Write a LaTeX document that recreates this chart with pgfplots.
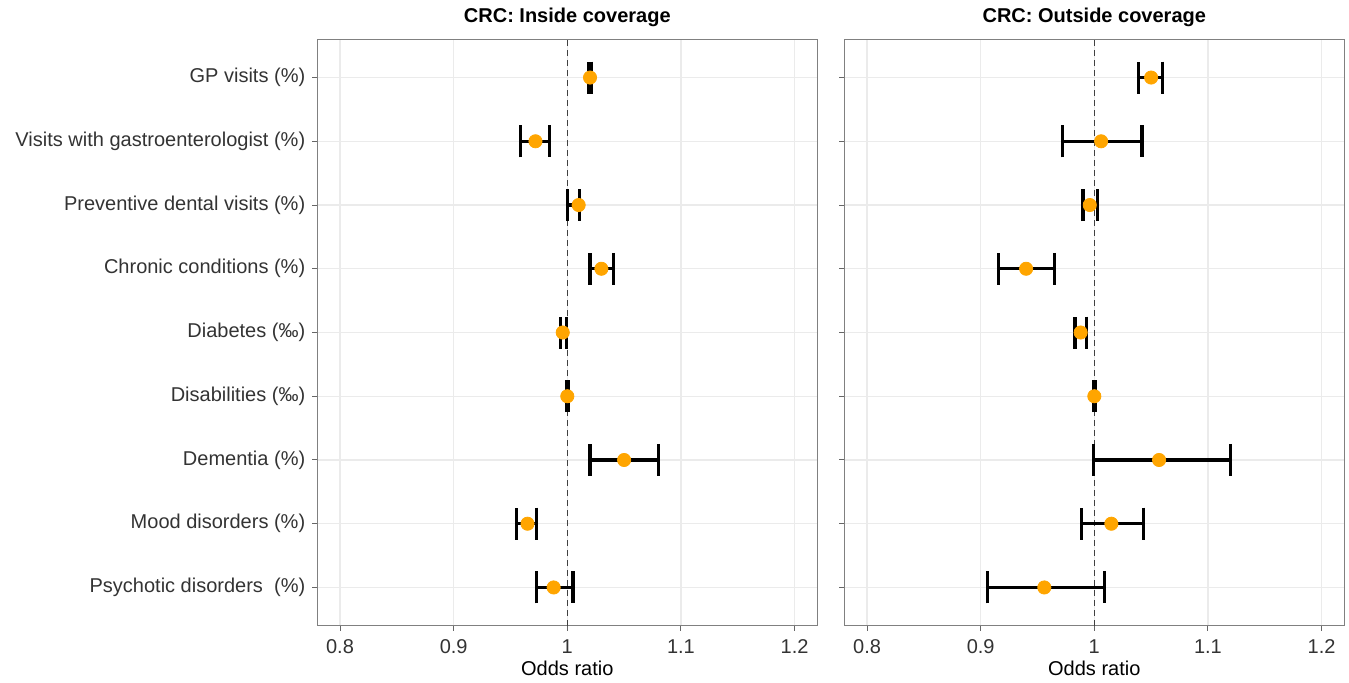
\documentclass[border=0pt]{standalone}
\usepackage{fontspec}
\setmainfont{Liberation Sans}
\usepackage{pgfplots}
\pgfplotsset{compat=1.18}
\usepackage{pgfplotstable}

\definecolor{ptorange}{RGB}{255,165,0}
\definecolor{gridgrey}{RGB}{235,235,235}
\definecolor{txtgrey}{RGB}{51,51,51}

% odds ratio with 95% CI, row 9 = top
\pgfplotstableread{
row or    lo    hi
9   1.020 1.019 1.021
8   0.972 0.959 0.984
7   1.010 1.000 1.011
6   1.030 1.020 1.041
5   0.996 0.994 0.999
4   1.000 0.999 1.001
3   1.050 1.020 1.080
2   0.965 0.955 0.973
1   0.988 0.973 1.005
}\inside

\pgfplotstableread{
row or    lo    hi
9   1.050 1.039 1.060
8   1.006 0.972 1.042
7   0.996 0.990 1.003
6   0.940 0.916 0.965
5   0.988 0.983 0.993
4   1.000 0.999 1.001
3   1.057 0.999 1.120
2   1.015 0.989 1.043
1   0.956 0.906 1.009
}\outside

\pgfplotsset{forest/.style={
    scale only axis, width=250pt, height=293.2pt,
    xmin=0.78, xmax=1.22, ymin=0.4, ymax=9.6,
    xtick={0.8,0.9,1,1.1,1.2}, xticklabels={0.8,0.9,1,1.1,1.2},
    ytick={1,...,9},
    xtick pos=lower, ytick pos=left,
    grid=major, major grid style={gridgrey, line width=0.6pt},
    axis line style={black!50, line width=0.6pt},
    tick align=outside, major tick length=2.5pt,
    tick style={black!60, line width=0.5pt},
    ticklabel style={text=txtgrey},
    xticklabel style={yshift=-1pt},
    xlabel={Odds ratio},
    xlabel style={yshift=3.5pt},
    title style={font=\bfseries, yshift=-3.5pt},
  },
  ci/.style={only marks, mark=none,
    error bars/.cd, x dir=both, x explicit,
    error bar style={line width=1.6pt, black},
    error mark options={rotate=90, line width=1.6pt, black, mark size=8pt}},
  pt/.style={only marks, mark=*, mark size=3.3pt, color=ptorange,
    mark options={draw=ptorange, fill=ptorange}},
  vref/.style={black!75, line width=0.5pt, dash pattern=on 3pt off 2pt}
}

\begin{document}
\begin{tikzpicture}
\begin{axis}[forest, at={(0,0)}, anchor=south west,
    title={CRC: Inside coverage},
    yticklabels={Psychotic disorders\ \ (\%), Mood disorders (\%), Dementia (\%),
      Disabilities (‰), Diabetes (‰), Chronic conditions (\%),
      Preventive dental visits (\%), Visits with gastroenterologist (\%), GP visits (\%)}]
\addplot[vref] coordinates {(1,0.4) (1,9.6)};
\addplot[ci] table[x=or, y=row,
    x error plus expr=\thisrow{hi}-\thisrow{or},
    x error minus expr=\thisrow{or}-\thisrow{lo}] {\inside};
\addplot[pt] table[x=or, y=row] {\inside};
\end{axis}

\begin{axis}[forest, at={(263.5pt,0)}, anchor=south west,
    title={CRC: Outside coverage}, yticklabels={}]
\addplot[vref] coordinates {(1,0.4) (1,9.6)};
\addplot[ci] table[x=or, y=row,
    x error plus expr=\thisrow{hi}-\thisrow{or},
    x error minus expr=\thisrow{or}-\thisrow{lo}] {\outside};
\addplot[pt] table[x=or, y=row] {\outside};
\end{axis}

\pgfresetboundingbox
\path[use as bounding box] (-158.65pt,-28.15pt) rectangle (515.85pt,312.85pt);
\end{tikzpicture}
\end{document}
